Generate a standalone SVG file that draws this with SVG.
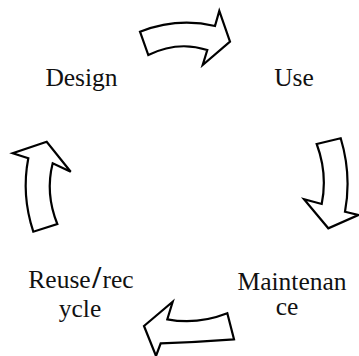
<svg xmlns="http://www.w3.org/2000/svg" width="359" height="356" viewBox="0 0 359 356">
  <style>
    text { font-family: 'Liberation Serif', 'Times New Roman', serif; font-size: 25.5px; fill: #111; text-anchor: middle; }
    .slash { font-weight: bold; font-size: 32px; }
    .blk { fill: #fff; stroke: #000; stroke-width: 2.2; stroke-linejoin: miter; }
  </style>
  <rect width="359" height="356" fill="#fff"/>

  <g id="design"><text x="81.5" y="86">Design</text></g>
  <g id="use"><text x="294" y="86">Use</text></g>
  <g id="maintenance">
    <text x="292" y="290">Maintenan</text>
    <text x="287" y="315">ce</text>
  </g>
  <g id="reuse">
    <text x="81" y="288">Reuse<tspan class="slash" dx="1.5">/</tspan><tspan dx="1.5">rec</tspan></text>
    <text x="80" y="317">ycle</text>
  </g>

  <!-- block arrows linking the stages clockwise -->
  <g id="connectors">
    <path class="blk" d="M140,31.7 Q177.5,17.2 215,26 L219.3,11 L230,41.7 L202.7,65 L207.3,50 Q177.8,40.5 148.3,55 Z"/>
    <path class="blk" d="M316.7,144 L340.7,138.3 Q351.8,175 345,211.7 L358.3,215 L328.3,228.3 L304,199.3 L321.7,204 Q327.8,174 316.7,144 Z"/>
    <path class="blk" d="M234,339.3 Q197,342.1 160.7,343.3 L156,356 L144,326 L172.7,301.7 L167.3,319.3 Q197,325.1 227.3,313.3 Z"/>
    <path class="blk" d="M33.3,231.7 Q21.2,195 28.3,158.3 L12.7,153.3 L46.7,141.7 L70.7,171.7 L52.7,163.3 Q45,193.5 57.3,224 Z"/>
  </g>
</svg>
